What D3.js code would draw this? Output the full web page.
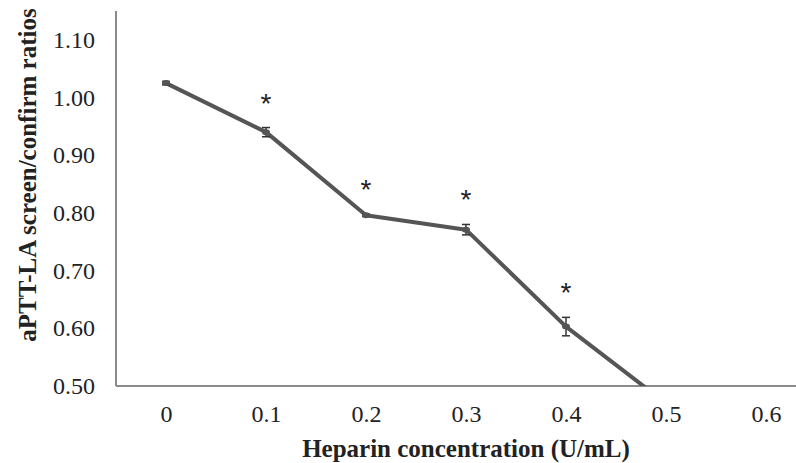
<!DOCTYPE html>
<html>
<head>
<meta charset="utf-8">
<script src="https://cdn.jsdelivr.net/npm/d3@7"></script>
<style>
  body { margin: 0; background: #fff; }
  svg { display: block; }
  .tick text { font-family: 'Liberation Serif', 'DejaVu Serif', serif; font-size: 24px; fill: #222; }
</style>
</head>
<body>
<div id="chart"></div>
<script>
"use strict";

// heparin concentrations (U/mL) and mean ratios
var concentrations = ["0", "0.1", "0.2", "0.3", "0.4", "0.5", "0.6"];
var ratios = [1.025, 0.940, 0.796, 0.771, 0.603, 0.470];
var errors = [0.003, 0.008, 0.002, 0.009, 0.016, 0.010];
var significant = [false, true, true, true, true, false];
var yTicks = [0.50, 0.60, 0.70, 0.80, 0.90, 1.00, 1.10];

var width = 796, height = 463;
var margin = { top: 11, right: -20, bottom: 77, left: 116 };

var svg = d3.select("#chart")
            .append("svg")
            .attr("width", width)
            .attr("height", height);

var x = d3.scalePoint()
          .domain(concentrations)
          .range([margin.left, width - margin.right])
          .padding(0.5);

var y = d3.scaleLinear()
          .domain([0.5, 1.15])
          .range([height - margin.bottom, margin.top]);

var data = ratios.map(function(v, i) {
  return { c: concentrations[i], v: v, e: errors[i], star: significant[i] };
});

// clip everything to the plot area so the last segment stops at the x axis
svg.append("clipPath").attr("id", "plot")
   .append("rect")
   .attr("x", margin.left).attr("y", margin.top)
   .attr("width", width - margin.left).attr("height", y(0.5) - margin.top);

var serif = "'Liberation Serif', 'DejaVu Serif', serif";

// y axis: line only, labels on the left
var yAxis = svg.append("g")
   .attr("transform", "translate(" + margin.left + ",0)")
   .call(d3.axisLeft(y).tickValues(yTicks).tickSize(0).tickPadding(21)
           .tickFormat(d3.format(".2f")));
yAxis.select(".domain").attr("stroke", "#8a8a8a").attr("stroke-width", 2)
     .attr("d", "M0," + margin.top + "V" + y(0.5));

// x axis
var xAxis = svg.append("g")
   .attr("transform", "translate(0," + y(0.5) + ")")
   .call(d3.axisBottom(x).tickSize(0).tickPadding(19));
xAxis.select(".domain").attr("stroke", "#8a8a8a").attr("stroke-width", 2)
     .attr("d", "M" + margin.left + ",0H" + width);

// series
var plot = svg.append("g").attr("clip-path", "url(#plot)");

var line = d3.line()
             .x(function(d) { return x(d.c); })
             .y(function(d) { return y(d.v); });

plot.append("path")
    .datum(data)
    .attr("d", line)
    .attr("fill", "none")
    .attr("stroke", "#555")
    .attr("stroke-width", 4)
    .attr("stroke-linejoin", "round");

// error bars
var bars = plot.selectAll(".err")
    .data(data)
    .enter()
    .append("g")
    .attr("class", "err")
    .attr("stroke", "#333")
    .attr("stroke-width", 1.5);

bars.append("line")
    .attr("x1", function(d) { return x(d.c); })
    .attr("x2", function(d) { return x(d.c); })
    .attr("y1", function(d) { return y(d.v - d.e); })
    .attr("y2", function(d) { return y(d.v + d.e); });
bars.append("line")
    .attr("x1", function(d) { return x(d.c) - 4; })
    .attr("x2", function(d) { return x(d.c) + 4; })
    .attr("y1", function(d) { return y(d.v + d.e); })
    .attr("y2", function(d) { return y(d.v + d.e); });
bars.append("line")
    .attr("x1", function(d) { return x(d.c) - 4; })
    .attr("x2", function(d) { return x(d.c) + 4; })
    .attr("y1", function(d) { return y(d.v - d.e); })
    .attr("y2", function(d) { return y(d.v - d.e); });

// small markers
plot.selectAll(".pt")
    .data(data)
    .enter()
    .append("ellipse")
    .attr("class", "pt")
    .attr("cx", function(d) { return x(d.c); })
    .attr("cy", function(d) { return y(d.v); })
    .attr("rx", 4).attr("ry", 3)
    .attr("fill", "#555");

// significance asterisks
svg.selectAll(".star")
   .data(data.filter(function(d) { return d.star; }))
   .enter()
   .append("text")
   .attr("class", "star")
   .attr("x", function(d) { return x(d.c); })
   .attr("y", function(d) { return y(d.v + d.e) - 15; })
   .attr("text-anchor", "middle")
   .attr("font-family", "'Liberation Sans', Arial, sans-serif")
   .attr("font-size", 28)
   .attr("fill", "#222")
   .text("*");

// axis titles
svg.append("text")
   .attr("x", x("0.3"))
   .attr("y", 457)
   .attr("text-anchor", "middle")
   .attr("font-family", serif)
   .attr("font-weight", "bold")
   .attr("font-size", 25)
   .attr("fill", "#222")
   .text("Heparin concentration (U/mL)");

svg.append("text")
   .attr("transform", "translate(36,175) rotate(-90)")
   .attr("text-anchor", "middle")
   .attr("font-family", serif)
   .attr("font-weight", "bold")
   .attr("font-size", 25)
   .attr("fill", "#222")
   .text("aPTT-LA screen/confirm ratios");
</script>
</body>
</html>
